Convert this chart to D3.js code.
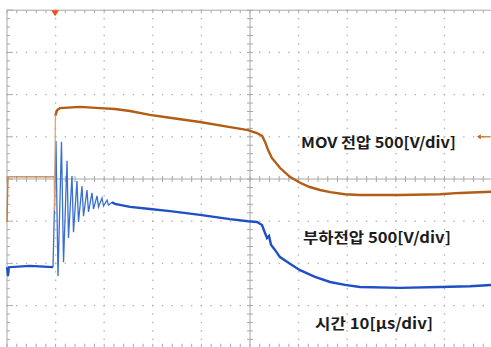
<!DOCTYPE html>
<html>
<head>
<meta charset="utf-8">
<script src="https://cdn.jsdelivr.net/npm/d3@7"></script>
<style>
  body { margin: 0; background: #fff; }
  svg { display: block; }
</style>
</head>
<body>
<svg id="scope"></svg>
<script>
// time in us from the left edge (10 us/div), level in screen divisions (centre line = 0)
const movTime  = [0, 0.2, 4, 9.7, 9.8, 9.95, 10.3, 10.9, 15.0, 19.1, 22.2, 25.3, 29.4, 33.5, 39.7, 45.9, 49.6, 51.4,
                  52.5, 53.1, 53.7, 54.5, 56.2, 58.2, 60.3, 62.3, 64.4, 66.5, 69.5, 72.6, 80.9, 89.1, 93.2, 100];
const movLevel = [-1.02, 0.05, 0.05, 0.05, -0.75, 1.50, 1.63, 1.68, 1.71, 1.68, 1.66, 1.61, 1.52, 1.45, 1.35, 1.23, 1.16, 1.09,
                  1.02, 0.88, 0.69, 0.50, 0.26, 0.05, -0.09, -0.19, -0.26, -0.31, -0.36, -0.38, -0.38, -0.36, -0.33, -0.30];

const loadTime  = [0, 0.2, 0.4, 4.7, 9.47,
                   10.08, 10.49, 11.21, 11.63, 12.35, 12.65, 13.37, 13.68, 14.40, 14.71, 15.43, 15.74, 16.46, 16.77,
                   17.49, 17.80, 18.52, 18.83, 19.55, 19.86, 20.58, 20.88, 21.60,
                   22.22, 25.31, 29.42, 33.54, 39.71, 45.88, 49.59, 51.44, 52.47, 53.09, 53.50, 53.91, 54.32, 55.14,
                   56.17, 58.23, 60.29, 63.37, 66.46, 69.55, 72.63, 80.86, 89.09, 95.27, 100];
const loadLevel = [-2.09, -2.30, -2.09, -2.06, -2.09,
                   0.90, -2.30, 0.88, -1.97, 0.43, -1.40, 0.07, -1.26, -0.05, -1.02, -0.17, -0.88, -0.26, -0.78,
                   -0.33, -0.71, -0.40, -0.66, -0.45, -0.64, -0.50, -0.62, -0.55,
                   -0.59, -0.66, -0.71, -0.76, -0.85, -0.95, -1.00, -1.02, -1.09, -1.28, -1.40, -1.35, -1.56, -1.68,
                   -1.85, -2.01, -2.16, -2.32, -2.44, -2.51, -2.56, -2.58, -2.56, -2.54, -2.51];

const labelTexts = ["MOV 전압 500[V/div]", "부하전압 500[V/div]", "시간 10[μs/div]"];

const width = 491, height = 347;
const triggerTime = 9.9;
const ringEnd = 21.6;

const svg = d3.select("#scope")
  .attr("width", width)
  .attr("height", height);

const x = d3.scaleLinear().domain([0, 100]).range([7, 493]);
const y = d3.scaleLinear().domain([-4, 4]).range([347.8, 10.2]);

const minorT = d3.range(0, 100.01, 2);
const minorL = d3.range(-4, 4.01, 0.2);
const gridCol = "#b4b4b4";

// dotted division lines
const grid = svg.append("g");
[10, 20, 30, 40, 60, 70, 80, 90].forEach(t => {
  grid.selectAll(null).data(minorL).enter().append("rect")
    .attr("x", x(t) - 0.7).attr("y", d => y(d) - 0.7)
    .attr("width", 1.4).attr("height", 1.4)
    .attr("fill", gridCol);
});
[-3, -2, -1, 1, 2, 3].forEach(l => {
  grid.selectAll(null).data(minorT).enter().append("rect")
    .attr("x", d => x(d) - 0.7).attr("y", y(l) - 0.7)
    .attr("width", 1.4).attr("height", 1.4)
    .attr("fill", gridCol);
});

// frame with inward ticks
grid.append("rect")
  .attr("x", x(0)).attr("y", y(4))
  .attr("width", x(100) - x(0)).attr("height", y(-4) - y(4))
  .attr("fill", "none").attr("stroke", "#a8a8a8").attr("stroke-width", 1);

grid.selectAll(null).data(minorT).enter().append("line")
  .attr("x1", d => x(d)).attr("x2", d => x(d))
  .attr("y1", y(4)).attr("y2", y(4) + 3)
  .attr("stroke", "#a8a8a8");
grid.selectAll(null).data(minorT).enter().append("line")
  .attr("x1", d => x(d)).attr("x2", d => x(d))
  .attr("y1", y(-4)).attr("y2", y(-4) - 4)
  .attr("stroke", "#a8a8a8");
grid.selectAll(null).data(minorL).enter().append("line")
  .attr("x1", x(0)).attr("x2", d => x(0) + (Math.abs(d % 1) < 0.01 ? 6 : 3))
  .attr("y1", d => y(d)).attr("y2", d => y(d))
  .attr("stroke", "#a8a8a8");

// centre axes
grid.append("line")
  .attr("x1", x(0)).attr("x2", x(100)).attr("y1", y(0)).attr("y2", y(0))
  .attr("stroke", "#a8a8a8");
grid.append("line")
  .attr("x1", x(50)).attr("x2", x(50)).attr("y1", y(4)).attr("y2", y(-4))
  .attr("stroke", "#a8a8a8");
grid.selectAll(null).data(minorT).enter().append("line")
  .attr("x1", d => x(d)).attr("x2", d => x(d))
  .attr("y1", y(0) - 3).attr("y2", y(0) + 3)
  .attr("stroke", "#a8a8a8");
grid.selectAll(null).data(minorL).enter().append("line")
  .attr("x1", x(50) - 3).attr("x2", x(50) + 3)
  .attr("y1", d => y(d)).attr("y2", d => y(d))
  .attr("stroke", "#a8a8a8");

// traces
const line = d3.line()
  .x(d => x(d[0]))
  .y(d => y(d[1]));

const mov = movTime.map((t, i) => [t, movLevel[i]]);
const load = loadTime.map((t, i) => [t, loadLevel[i]]);
const ringIdx = [loadTime.indexOf(9.47), loadTime.indexOf(ringEnd)];

svg.append("path")
  .attr("d", line(load.slice(0, ringIdx[0] + 1)))
  .attr("fill", "none").attr("stroke", "#1e4fc6").attr("stroke-width", 2.2);
svg.append("path")
  .attr("d", line(load.slice(ringIdx[0], ringIdx[1] + 1)))
  .attr("fill", "none").attr("stroke", "#3a6fd2").attr("stroke-width", 1.3);
svg.append("path")
  .attr("d", line(load.slice(ringIdx[1])))
  .attr("fill", "none").attr("stroke", "#1e4fc6").attr("stroke-width", 2.4);

svg.append("path")
  .attr("d", line(mov.slice(0, 4)))
  .attr("fill", "none").attr("stroke", "#c07a3a").attr("stroke-width", 1.4);
svg.append("path")
  .attr("d", line(mov.slice(3, 6)))
  .attr("fill", "none").attr("stroke", "#d9a06a").attr("stroke-width", 1.2);
svg.append("path")
  .attr("d", line(mov.slice(5)))
  .attr("fill", "none").attr("stroke", "#b35c14").attr("stroke-width", 2.4);

// trigger and ground markers
const tx = x(triggerTime);
svg.append("path")
  .attr("d", `M${tx - 4},${y(4)} L${tx + 4},${y(4)} L${tx},${y(4) + 6} Z`)
  .attr("fill", "#f0501e");
svg.append("line")
  .attr("x1", x(97.5)).attr("x2", x(99.5)).attr("y1", y(1)).attr("y2", y(1))
  .attr("stroke", "#c06a20").attr("stroke-width", 1.2);
svg.append("path")
  .attr("d", `M${x(97.5) - 4},${y(1)} L${x(97.5)},${y(1) - 2.5} L${x(97.5)},${y(1) + 2.5} Z`)
  .attr("fill", "#c06a20");

// channel labels
const labelPos = [[60.5, 0.73, 155], [60.9, -1.52, 148], [63.4, -3.55, 118]];
svg.selectAll("text.lab")
  .data(labelTexts)
  .enter().append("text")
  .attr("class", "lab")
  .attr("x", (d, i) => x(labelPos[i][0]))
  .attr("y", (d, i) => y(labelPos[i][1]))
  .attr("textLength", (d, i) => labelPos[i][2])
  .attr("lengthAdjust", "spacingAndGlyphs")
  .style("font-family", "'Noto Sans CJK KR', 'Noto Sans', sans-serif")
  .style("font-weight", "bold")
  .style("font-size", "15px")
  .attr("fill", "#1c1c1c")
  .text(d => d);
</script>
</body>
</html>
